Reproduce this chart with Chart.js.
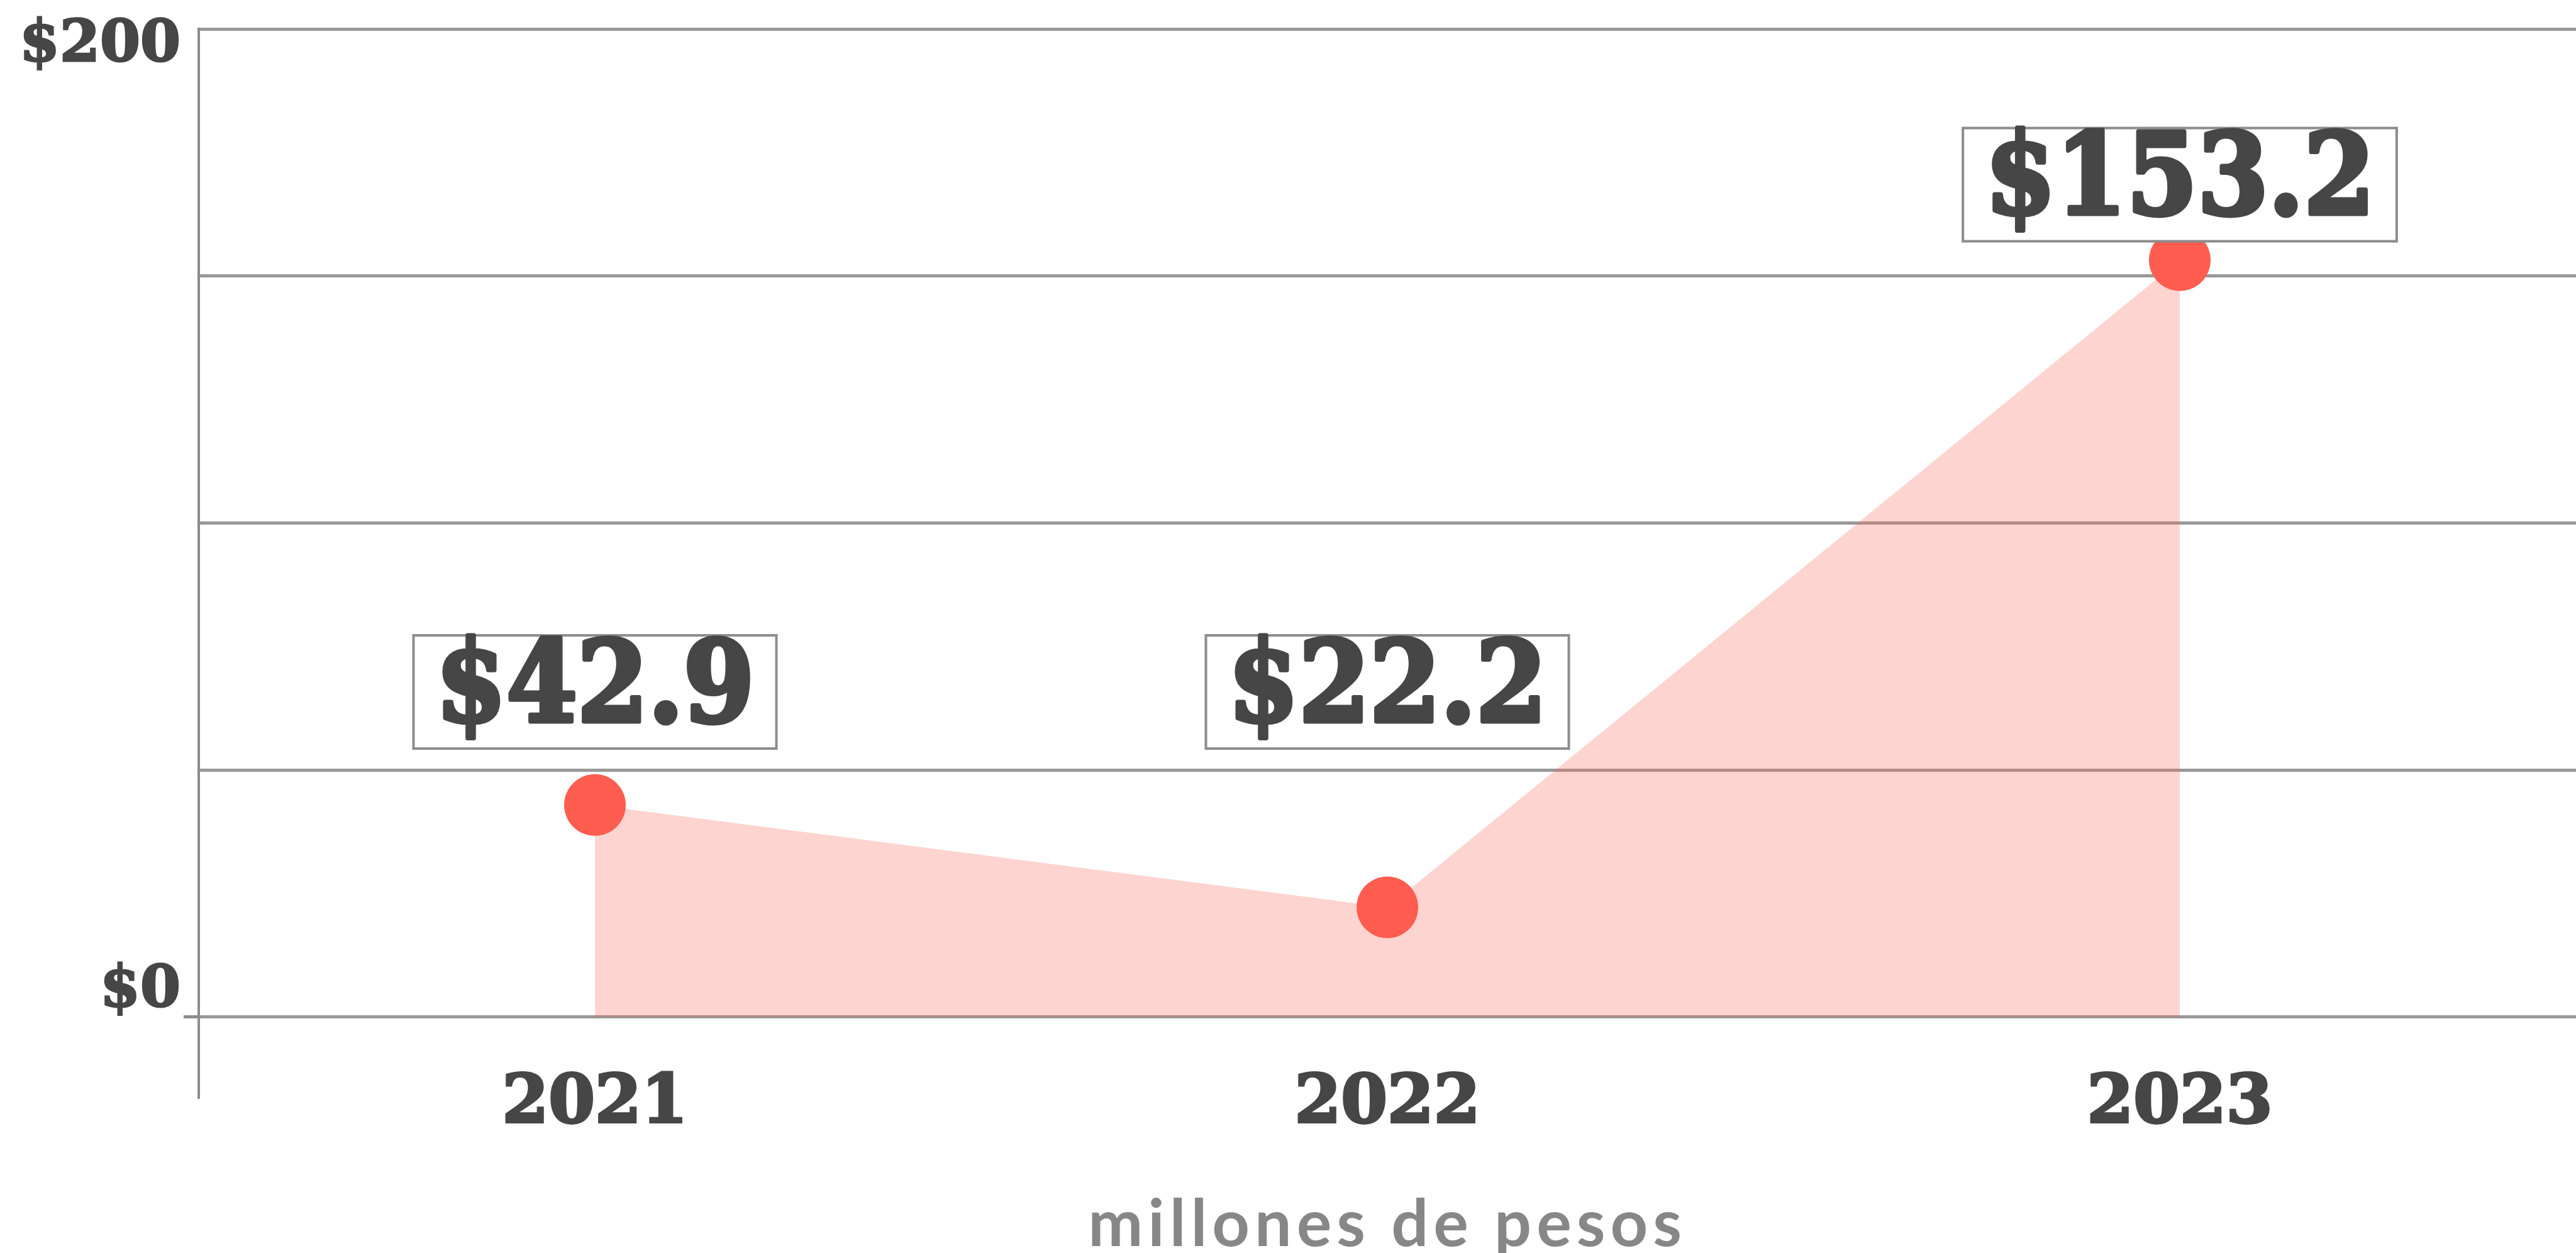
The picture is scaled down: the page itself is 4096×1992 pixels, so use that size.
<!DOCTYPE html>
<html>
<head>
<meta charset="utf-8">
<script src="https://cdn.jsdelivr.net/npm/chart.js@4.4.1/dist/chart.umd.min.js"></script>
<style>
  html, body { margin: 0; padding: 0; background: #fff; overflow: hidden; }
  #wrap { width: 4096px; height: 1992px; }
</style>
</head>
<body>
<div id="wrap"><canvas id="montoChart" width="4096" height="1992"></canvas></div>
<script>
var years = ['2021', '2022', '2023'];
var amounts = [42.9, 22.2, 153.2];
var yTicks = [0, 50, 100, 150, 200];
var yTickLabels = ['$0', '', '', '', '$200'];
var unitLabel = 'millones de pesos';

var slab = "'DejaVu Serif', serif";
var slabNarrow = "'DejaVu Serif Condensed', 'DejaVu Serif', serif";
var inkColor = '#464646';

// caja con el monto encima de cada punto
var boxLabels = {
    id: 'boxLabels',
    afterDatasetsDraw: function(chart) {
        var ctx = chart.ctx;
        var floorY = chart.scales.y.getPixelForValue(yTicks[1]) - 34;
        chart.getDatasetMeta(0).data.forEach(function(pt, i) {
            var text = '$' + amounts[i].toFixed(1);
            ctx.save();
            ctx.font = 'bold 180px ' + slabNarrow;
            var w = ctx.measureText(text).width + 70;
            var h = 180;
            var bottom = Math.min(pt.y - 30, floorY);
            var left = pt.x - w / 2;
            ctx.fillStyle = '#fff';
            ctx.fillRect(left, bottom - h, w, h);
            ctx.lineWidth = 4;
            ctx.strokeStyle = '#8c8c8c';
            ctx.strokeRect(left, bottom - h, w, h);
            ctx.fillStyle = inkColor;
            ctx.strokeStyle = inkColor;
            ctx.lineWidth = 7;
            ctx.lineJoin = 'round';
            ctx.textAlign = 'center';
            ctx.textBaseline = 'middle';
            ctx.strokeText(text, pt.x, bottom - h / 2);
            ctx.fillText(text, pt.x, bottom - h / 2);
            ctx.restore();
        });
    }
};

// el titulo del eje lleva letras espaciadas
var spacedTitle = {
    id: 'spacedTitle',
    beforeDraw: function(chart) {
        var s = chart.scales.x;
        if (s._spaced) return;
        var orig = s.drawTitle;
        s.drawTitle = function() {
            this.ctx.save();
            this.ctx.letterSpacing = '8px';
            orig.apply(this, arguments);
            this.ctx.restore();
        };
        s._spaced = true;
    }
};

new Chart(document.getElementById('montoChart'), {
    type: 'line',
    data: {
        labels: years,
        datasets: [{
            data: amounts,
            fill: 'origin',
            backgroundColor: 'rgba(251, 100, 85, 0.28)',
            borderColor: 'rgba(0, 0, 0, 0)',
            borderWidth: 0,
            tension: 0,
            pointRadius: 49,
            pointHoverRadius: 49,
            pointBackgroundColor: '#fe5d4f',
            pointBorderWidth: 0
        }]
    },
    options: {
        responsive: false,
        animation: false,
        devicePixelRatio: 1,
        layout: { autoPadding: false, padding: { top: 46, right: 0, bottom: 0, left: 0 } },
        plugins: {
            legend: { display: false },
            tooltip: { enabled: false }
        },
        scales: {
            x: {
                offset: true,
                grid: { display: false, drawTicks: false },
                border: { display: false },
                ticks: {
                    color: inkColor,
                    textStrokeColor: inkColor,
                    textStrokeWidth: 4,
                    mirror: true,
                    font: { family: slab, weight: 'bold', size: 106, lineHeight: 1 },
                    padding: -65,
                    maxRotation: 0,
                    autoSkip: false
                },
                title: {
                    display: true,
                    text: unitLabel,
                    color: '#878787',
                    font: { family: 'Lato', weight: 'bold', size: 104, lineHeight: 1.2 },
                    padding: { top: 0, bottom: -18 }
                },
                afterFit: function(s) { s.height = 248; }
            },
            y: {
                min: -16.2,
                max: 200,
                afterBuildTicks: function(s) {
                    s.ticks = yTicks.map(function(v) { return { value: v }; });
                },
                grid: {
                    color: '#999999',
                    lineWidth: 5,
                    drawTicks: true,
                    tickLength: 24,
                    tickColor: function(c) {
                        return c.tick && c.tick.value === yTicks[0] ? '#8c8c8c' : 'rgba(0, 0, 0, 0)';
                    }
                },
                border: { display: true, color: '#8c8c8c', width: 4 },
                ticks: {
                    color: inkColor,
                    textStrokeColor: inkColor,
                    textStrokeWidth: 3,
                    padding: 5,
                    font: function(c) {
                        var lh = c.tick && c.tick.value === yTicks[0] ? '82px' : '54px';
                        return { family: slab, weight: 'bold', size: 92, lineHeight: lh };
                    },
                    callback: function(v) {
                        var lbl = yTickLabels[yTicks.indexOf(v)];
                        if (!lbl) return '';
                        return v === yTicks[0] ? [lbl, ''] : ['', lbl];
                    }
                },
                afterFit: function(s) {
                    s.width = 316;
                    s.paddingTop = 0;
                    s.paddingBottom = 0;
                }
            }
        }
    },
    plugins: [boxLabels, spacedTitle]
});
</script>
</body>
</html>
